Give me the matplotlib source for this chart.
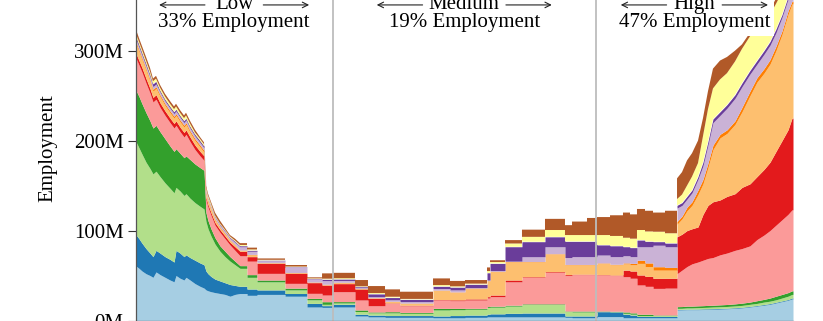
import numpy as np
import matplotlib.pyplot as plt
from matplotlib import transforms

# sample positions (occupation percentile, 0-100)
x_pos = [0, 0.53, 0.99, 1.6, 2.2, 2.66, 3.12, 3.73, 4.49, 5.25, 5.86, 6.16, 6.77, 7.38,
         7.68, 8.29, 9.05, 9.81, 10.42, 10.72, 11.03, 11.48, 12.09, 12.85, 13.61, 14.37,
         15.13, 15.89, 16.96, 18.48, 22.74, 26.08, 28.37,
         30.04, 33.38, 35.36, 37.95, 40.23, 45.25, 47.83, 50.11, 53.46, 53.92, 56.2,
         58.78, 62.28, 65.32, 66.39, 68.67,
         70.19, 72.17, 74.14, 75.21, 76.27, 77.49, 78.71, 80.53, 82.36, 83.12, 83.88,
         84.64, 85.55, 86.31, 87.07, 87.83, 88.9, 89.96, 91.18, 92.24, 93.46, 94.52,
         95.59, 96.5, 97.41, 98.33, 99.24, 99.85]
# 1 = value holds flat until the next sample (plateau), 0 = slopes to the next sample
flat_step = [0] * 27 + [1] * 6 + [1] * 16 + [1] * 8 + [0] * 20

# cumulative top of each stacked layer (millions employed), bottom to top
top_lt_blue = [61, 58, 55, 52, 50, 48, 54, 51, 48, 45, 43, 50, 47, 45, 48, 45, 41, 38, 36,
               34, 33, 32, 31, 30, 29, 27, 29, 30, 28, 29, 27, 15, 14.6,
               15, 5, 4, 3.5, 3.5, 3, 3, 3.5, 4, 4, 4, 4, 4, 3.5, 3, 3,
               4.3, 4.3, 3, 3, 3, 3, 3, 3, 11.7, 11.8, 12, 12, 12, 12.2, 12.3, 12.5,
               12.7, 13, 13.5, 14, 15, 16, 17, 18, 19.5, 21, 22.5, 24]
top_dk_blue = [96, 91, 86, 80, 75, 71, 78, 75, 71, 68, 65, 78, 75, 71, 73, 70, 67, 64, 62,
               55, 52, 49, 46, 44, 42, 40, 39, 38, 35, 34, 30, 19, 16.5,
               18, 7, 6, 5.5, 5.5, 5, 5.5, 6, 7, 7.4, 8, 8.3, 8.3, 5, 5, 5,
               9.8, 9.5, 7, 6, 4.5, 4.5, 4.5, 4.5, 12.3, 12.4, 12.6, 12.6, 12.7, 12.9,
               13, 13.2, 13.4, 13.7, 14.2, 14.7, 15.7, 16.7, 17.8, 18.8, 20.3, 21.8,
               23.3, 25]
top_lt_green = [200, 192, 185, 176, 169, 163, 166, 160, 153, 147, 142, 148, 144, 139, 141,
                136, 131, 127, 124, 110, 102, 94, 85, 77, 71, 66, 62, 58, 48, 43, 34, 23,
                18,
                19.5, 10, 8.5, 8.5, 8, 11.7, 12, 12.5, 14.5, 14.8, 16, 17.8, 17.8, 10,
                9.5, 9.5,
                10, 9.8, 8, 7, 5.5, 5.5, 5.5, 5.5, 13.5, 13.6, 14, 14, 14.3, 14.5, 14.7,
                15, 15.3, 15.6, 16.2, 16.8, 18, 19, 20.5, 21.5, 23, 25, 27, 29]
top_green = [257, 249, 241, 231, 222, 214, 217, 210, 202, 194, 188, 191, 186, 181, 183,
             179, 174, 170, 167, 120, 111, 102, 92, 83, 77, 71, 66, 61, 51, 45, 36, 24.6,
             20.9,
             21, 11.7, 9.5, 9.8, 9, 13.5, 13.5, 13.5, 15.5, 15.9, 17, 18.5, 18.5, 10.5,
             10.5, 10.5,
             10.5, 10.3, 9.5, 8.5, 7, 7, 6.1, 6.1, 15.4, 15.5, 16, 16, 16.3, 16.5, 16.8,
             17, 17.4, 17.8, 18.5, 19.3, 20.5, 22, 23.5, 25, 27, 29, 31, 33]
top_pink = [293, 284, 276, 264, 253, 243, 246, 237, 228, 220, 214, 217, 210, 204, 207,
            199, 190, 183, 178, 134, 126, 117, 106, 98, 91, 84, 78, 72, 66, 52.4, 41.3,
            30.2, 28.3,
            32, 22.8, 16.4, 19, 16.4, 22.8, 22, 22.8, 25, 26.5, 43, 48, 53.5, 50, 51, 51,
            50.6, 50, 48.7, 47, 39.5, 38, 35.7, 36, 52, 56, 60, 63, 65, 67, 69, 70, 73,
            75, 78, 80, 83, 90, 95, 100, 106, 112, 118, 123]
top_red = [298, 289, 281, 269, 258, 248, 251, 242, 233, 225, 219, 222, 215, 209, 212, 204,
           195, 188, 183, 137, 129, 120, 109, 101, 94, 87, 82, 77, 71, 63.5, 52.4, 42.1,
           39.4,
           41, 35, 24.5, 19.5, 17, 23.3, 23, 24, 26.5, 28.3, 45, 48.7, 54.3, 51, 51.5,
           51.5,
           51, 50.5, 56, 55, 50.6, 49, 46.9, 47, 93, 96, 100, 102, 104, 118, 128, 132,
           134, 138, 141, 148, 152, 160, 168, 176, 188, 200, 212, 225]
top_lt_orange = [309, 299, 290, 278, 266, 255, 258, 249, 239, 231, 225, 228, 221, 215,
                 218, 209, 200, 193, 187, 141, 133, 124, 112, 103, 96, 89, 84, 78, 73, 64,
                 53, 42.5, 40,
                 42, 35.5, 25, 21, 19, 33.5, 31.5, 35.7, 44, 54.4, 65.3, 65.3, 74, 62, 62,
                 62,
                 63.5, 62, 63, 62, 63.5, 60, 56, 56, 107, 113, 122, 128, 140, 152, 170,
                 190, 203, 208, 218, 232, 250, 265, 275, 285, 300, 318, 340, 352]
top_orange = [311, 301, 292, 280, 268, 257, 260, 251, 241, 233, 227, 230, 223, 217, 220,
              211, 202, 195, 189, 142, 134, 125, 113, 104, 97, 89.5, 84.5, 78.3, 73.5,
              64.3, 53.3, 42.8, 40.3,
              42.5, 35.8, 25.3, 21.3, 19.3, 33.8, 31.8, 36, 44.3, 54.7, 65.6, 65.6, 74.3,
              62.3, 62.3, 62.3,
              64, 62.5, 64, 63.5, 67, 64, 59.8, 59, 110, 116, 126, 132, 145, 157, 175,
              195, 207, 212, 222, 237, 255, 270, 280, 290, 305, 322, 344, 355]
top_lt_purple = [314, 304, 295, 283, 271, 260, 263, 254, 244, 236, 230, 233, 226, 220,
                 223, 214, 205, 198, 192, 145, 136, 127, 115, 106, 99, 91.5, 87, 82, 77,
                 66.5, 59.1, 45.8, 44.3,
                 44.5, 36.5, 26.5, 23, 21, 35.5, 34, 36.5, 45, 55.5, 66, 70.9, 82, 70, 71,
                 71,
                 72.8, 71, 72, 71, 82, 82, 83.7, 82, 125, 128, 135, 142, 157, 172, 195,
                 220, 228, 236, 247, 260, 274, 285, 296, 306, 320, 337, 357, 362]
top_purple = [317, 307, 298, 286, 274, 263, 266, 256, 246, 238, 232, 235, 228, 222, 225,
              216, 207, 200, 194, 146, 137, 128, 116, 107, 100, 92.5, 88, 83, 78, 67,
              59.5, 46.3, 45.8,
              46, 37.5, 29.5, 25.5, 23.5, 38, 37, 40.2, 53, 63.5, 82, 87.6, 93, 88, 88, 88,
              84, 83, 82, 81, 89.4, 88, 87.6, 86, 128, 131, 138, 145, 160, 176, 199, 224,
              232, 240, 251, 264, 278, 289, 300, 310, 324, 340, 360, 365]
top_yellow = [320, 310, 301, 289, 277, 266, 269, 259, 249, 241, 235, 238, 231, 225, 228,
              219, 209, 202, 196, 148, 139, 130, 117, 108, 101, 93.5, 89, 84, 79, 67.5,
              60, 46.8, 46.5,
              47, 38, 30.5, 26.4, 24, 39.4, 38, 41, 55, 65, 85.6, 93, 100.6, 95, 95, 95,
              95, 94, 92, 91, 100.6, 99, 98.7, 97, 135, 140, 150, 160, 175, 205, 235, 258,
              268, 275, 288, 302, 316, 326, 333, 340, 352, 365, 380, 385]
top_brown = [325, 314, 305, 293, 281, 269, 272, 262, 252, 244, 238, 241, 234, 228, 231,
             222, 212, 204, 198, 150, 141, 132, 120, 111, 103, 95, 91, 86, 81, 69, 61.7,
             48, 52.4,
             53, 45, 38.3, 34.6, 32, 46.8, 44, 45, 59, 67, 89.4, 101, 113, 106, 110, 114,
             115, 117, 120, 118, 124, 122, 120, 122, 158, 165, 178, 186, 200, 225, 255,
             280, 289, 293, 300, 307, 320, 334, 338, 345, 358, 375, 400, 420]

groups = ["Low", "Medium", "High"]
shares = ["33%", "19%", "47%"]
group_edges = [0, 30, 70, 100]

plt.rcParams["font.family"] = ["Liberation Serif", "DejaVu Serif"]
plt.rcParams["font.size"] = 15

fig = plt.figure(figsize=(8.23, 3.21), dpi=100)
# the axes reaches above the canvas: the reference is a crop of a taller figure
ax = fig.add_axes([135.5 / 823, 0.5 / 321, 657.5 / 823, 344.5 / 321])

layers = [top_lt_blue, top_dk_blue, top_lt_green, top_green, top_pink, top_red,
          top_lt_orange, top_orange, top_lt_purple, top_purple, top_yellow, top_brown]
colors = plt.get_cmap("Paired").colors


def outline(tops):
    # plateaus hold their value up to the next sample, the rest slope to it
    xs, ys = [], []
    n = len(x_pos)
    for i in range(n):
        xs.append(x_pos[i])
        ys.append(tops[i])
        if flat_step[i] or i == n - 1:
            xs.append(x_pos[i + 1] if i + 1 < n else 100)
            ys.append(tops[i])
    return np.array(xs), np.array(ys, dtype=float)


lower = None
for tops, c in zip(layers, colors):
    assert len(tops) == len(x_pos)
    xs, upper = outline(tops)
    if lower is None:
        lower = np.zeros(len(xs))
    ax.fill_between(xs, lower, upper, color=c, linewidth=0, zorder=1)
    lower = upper

for edge in group_edges[1:-1]:
    ax.axvline(edge, color="#bdbdbd", lw=1.3, zorder=2)

ax.set_xlim(0, 100)
ax.set_ylim(0, 383)
ax.set_yticks([0, 100, 200, 300])
ax.set_yticklabels(["0M", "100M", "200M", "300M"])
ax.set_xticks([])
ax.set_ylabel("Employment", labelpad=12)
ax.tick_params(axis="y", length=5.5, width=0.8, pad=3, colors="#333333",
               labelcolor="black")
for side in ["top", "right"]:
    ax.spines[side].set_visible(False)
for side in ["left", "bottom"]:
    ax.spines[side].set_color("#555555")
    ax.spines[side].set_linewidth(0.9)

blend = transforms.blended_transform_factory(ax.transData, ax.transAxes)
gaps = {"Low": 21, "Medium": 30, "High": 20}
arrow_len = 33
for name, share, a, b in zip(groups, shares, group_edges[:-1], group_edges[1:]):
    cx = (a + b) / 2
    ax.text(cx, 0.838, f"{name}\n{share} Employment", transform=blend, ha="center",
            va="bottom", linespacing=0.95, zorder=4,
            bbox=dict(facecolor="white", edgecolor="none", pad=3))
    g = gaps[name]
    for sgn in (-1, 1):
        tail = transforms.offset_copy(blend, fig=fig, x=sgn * g, y=0, units="points")
        head = transforms.offset_copy(blend, fig=fig, x=sgn * (g + arrow_len), y=0,
                                      units="points")
        ax.annotate("", xy=(cx, 0.916), xycoords=head, xytext=(cx, 0.916),
                    textcoords=tail, zorder=5,
                    arrowprops=dict(arrowstyle="->", lw=0.8, color="#222222",
                                    shrinkA=0, shrinkB=0, mutation_scale=10))

fig.savefig("out.png", dpi=100)
